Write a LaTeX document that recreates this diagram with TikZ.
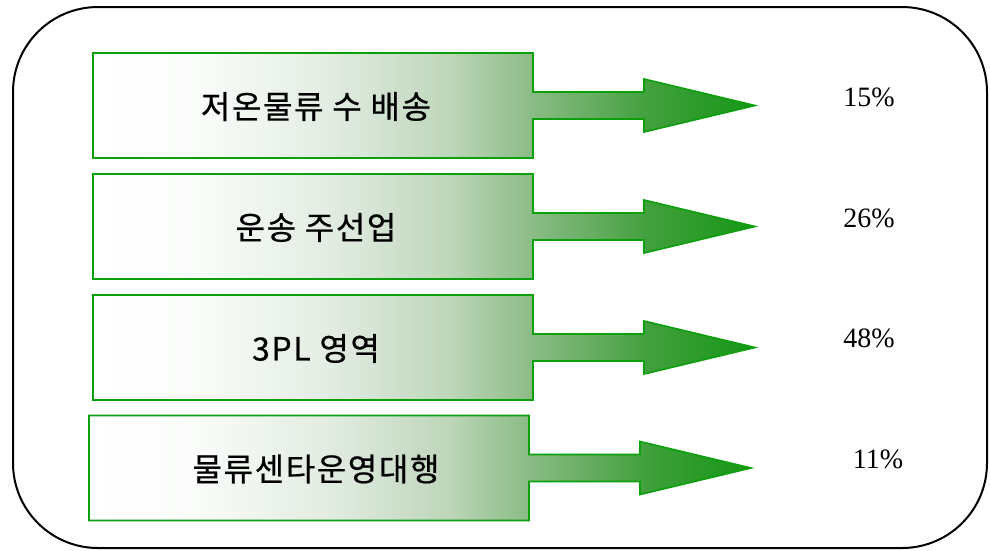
\documentclass[tikz,border=0pt]{standalone}
\usepackage{fontspec}
\newfontfamily\kr[FakeBold=0.6,LetterSpace=5]{Noto Sans CJK KR}
\newfontfamily\pctfont{Liberation Serif}
\definecolor{gline}{RGB}{10,160,10}
\definecolor{s1}{RGB}{250,252,250}
\definecolor{s2}{RGB}{226,236,226}
\definecolor{s3}{RGB}{190,214,186}
\definecolor{s4}{RGB}{140,188,135}
\definecolor{s5}{RGB}{100,172,95}
\definecolor{s6}{RGB}{65,160,60}
\definecolor{s7}{RGB}{22,150,22}
\pgfdeclarehorizontalshading{gshade}{100bp}{color(0bp)=(white); color(25bp)=(white); color(33bp)=(s1); color(43bp)=(s2); color(52bp)=(s3); color(58bp)=(s4); color(63bp)=(s5); color(67bp)=(s6); color(75bp)=(s7); color(100bp)=(s7)}
\tikzset{
  arrowshape/.style={draw=gline, line width=1.6pt, line join=miter, shading=gshade},
  lbl/.style={font=\kr\fontsize{32}{34}\selectfont, inner sep=0pt, anchor=center},
  pct/.style={font=\pctfont\fontsize{28}{30}\selectfont, inner sep=0pt, anchor=center},
  frame/.style={draw=black, line width=2pt, rounded corners=85pt}
}
\begin{document}
\begin{tikzpicture}[x=1pt,y=-1pt]
\useasboundingbox (0,0) rectangle (990,550);
\draw[frame] (13,7) rectangle (987,548);
\foreach \c/\dx/\t/\p/\px/\py [count=\i] in {
  105.5/0/저온물류 수 배송/15\%/869/97,
  226.5/0/운송 주선업/26\%/869/218,
  347.5/0/3PL 영역/48\%/869/338,
  468/-4/물류센타운영대행/11\%/878/459}{
  \path[arrowshape] (93+\dx,\c-52.5) -- (533+\dx,\c-52.5) -- (533+\dx,\c-13.5) -- (644+\dx,\c-13.5) -- (644+\dx,\c-26.5) -- (755+\dx,\c) -- (644+\dx,\c+26.5) -- (644+\dx,\c+13.5) -- (533+\dx,\c+13.5) -- (533+\dx,\c+52.5) -- (93+\dx,\c+52.5) -- cycle;
  \node[lbl] (t\i) at (316,\c+1) {\t};
  \node[pct] (p\i) at (\px,\py) {\p};
}
\end{tikzpicture}
\end{document}
